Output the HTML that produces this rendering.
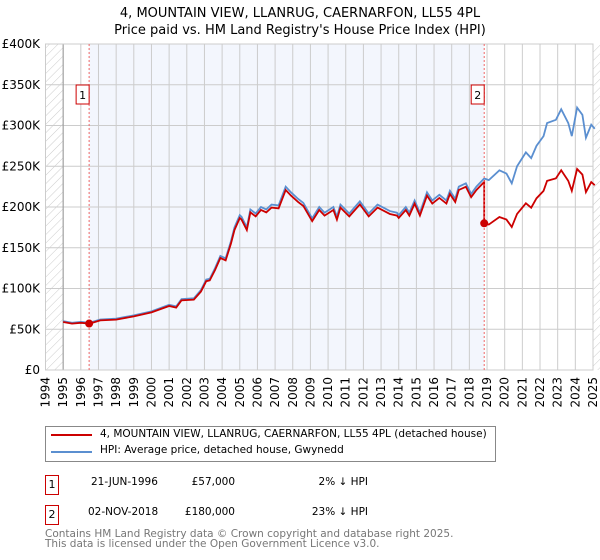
<!DOCTYPE html>
<html><head><meta charset="utf-8">
<style>
body{margin:0;background:#fff;font-family:"DejaVu Sans","Liberation Sans",sans-serif;}
#wrap{position:relative;width:600px;height:560px;overflow:hidden}
.t{position:absolute;white-space:nowrap;color:#000}
</style></head><body>
<div id="wrap">
<svg id="chart" width="600" height="560" style="position:absolute;left:0;top:0">
<defs><pattern id="hatch" width="6" height="6" patternUnits="userSpaceOnUse" patternTransform="rotate(45)"><line x1="0" y1="0" x2="0" y2="6" stroke="#ccc" stroke-width="1"/></pattern></defs>
<text x="300" y="17" text-anchor="middle" font-size="13">4, MOUNTAIN VIEW, LLANRUG, CAERNARFON, LL55 4PL</text>
<text x="300" y="34" text-anchor="middle" font-size="13">Price paid vs. HM Land Registry's House Price Index (HPI)</text>
<g id="plot"></g>
</svg>
<div style="position:absolute;left:45px;top:426px;width:449px;height:34px;border:1px solid #888">
 <div style="position:absolute;left:5px;top:7px;width:41px;height:2px;background:#cc0000"></div>
 <div class="t" style="left:54px;top:1px;font-size:10.5px">4, MOUNTAIN VIEW, LLANRUG, CAERNARFON, LL55 4PL (detached house)</div>
 <div style="position:absolute;left:5px;top:24px;width:41px;height:2px;background:#5b8fd0"></div>
 <div class="t" style="left:54px;top:17px;font-size:10.5px">HPI: Average price, detached house, Gwynedd</div>
</div>
<div style="position:absolute;left:45px;top:475px;width:12px;height:18px;border:1px solid #cc0000;font-size:11px;text-align:center;line-height:18px">1</div>
<div class="t" style="left:91px;top:476px;font-size:10.5px">21-JUN-1996</div>
<div class="t" style="left:165px;width:70px;text-align:right;top:476px;font-size:10.5px">£57,000</div>
<div class="t" style="left:280px;width:88px;text-align:right;top:476px;font-size:10.5px">2% ↓ HPI</div>
<div style="position:absolute;left:45px;top:505px;width:12px;height:18px;border:1px solid #cc0000;font-size:11px;text-align:center;line-height:18px">2</div>
<div class="t" style="left:88px;top:506px;font-size:10.5px">02-NOV-2018</div>
<div class="t" style="left:165px;width:70px;text-align:right;top:506px;font-size:10.5px">£180,000</div>
<div class="t" style="left:280px;width:88px;text-align:right;top:506px;font-size:10.5px">23% ↓ HPI</div>
<div class="t" style="left:45px;top:529px;font-size:10.5px;color:#777;line-height:10px">Contains HM Land Registry data © Crown copyright and database right 2025.<br>This data is licensed under the Open Government Licence v3.0.</div>
</div>
<script>
const hpiYears=[1995.0,1995.5,1996.0,1996.5,1997.1,1998.0,1999.0,2000.0,2001.0,2001.4,2001.7,2002.4,2002.8,2003.1,2003.3,2003.6,2003.9,2004.2,2004.5,2004.7,2005.0,2005.1,2005.4,2005.6,2005.9,2006.2,2006.5,2006.8,2007.2,2007.6,2007.9,2008.3,2008.6,2009.1,2009.5,2009.8,2010.3,2010.5,2010.7,2011.2,2011.8,2012.3,2012.8,2013.5,2013.9,2014.0,2014.4,2014.6,2014.9,2015.2,2015.6,2015.9,2016.3,2016.7,2016.9,2017.2,2017.4,2017.8,2018.1,2018.4,2018.84,2019.1,2019.7,2020.1,2020.4,2020.7,2021.2,2021.5,2021.8,2022.2,2022.4,2022.9,2023.2,2023.6,2023.8,2024.1,2024.4,2024.6,2024.9,2025.1];
const hpiValues=[60,58,59,58,62,63,67,72,80,78,87,88,98,111,112,125,140,137,158,175,190,188,175,197,192,200,197,203,202,225,218,210,205,186,200,193,200,188,203,192,207,192,203,195,193,190,200,193,208,193,218,208,215,208,220,210,225,229,216,225,235,233,245,241,229,250,267,260,275,287,303,307,320,303,287,322,313,285,301,296];
const saleYears=[1996.47,2018.84];
const salePrices=[57,180];
const yTicks=[0,50,100,150,200,250,300,350,400];
const yTickLabels=["£0","£50K","£100K","£150K","£200K","£250K","£300K","£350K","£400K"];
const xTicks=[1994,1995,1996,1997,1998,1999,2000,2001,2002,2003,2004,2005,2006,2007,2008,2009,2010,2011,2012,2013,2014,2015,2016,2017,2018,2019,2020,2021,2022,2023,2024,2025];

const NS="http://www.w3.org/2000/svg";
const L=45.5,R=593,T=44,B=370;
const x=y=>L+(y-1994)*(R-L)/31;
const yv=v=>B-v*(B-T)/400;
const g=document.getElementById('plot');
function mk(tag,attrs){const e=document.createElementNS(NS,tag);for(const k in attrs)e.setAttribute(k,attrs[k]);g.appendChild(e);return e;}
function hpiAt(t){for(let i=0;i<hpiYears.length-1;i++){if(t<=hpiYears[i+1]){const f=(t-hpiYears[i])/(hpiYears[i+1]-hpiYears[i]);return hpiValues[i]+f*(hpiValues[i+1]-hpiValues[i]);}}return hpiValues[hpiValues.length-1];}

let e=mk('rect',{x:L,y:T,width:x(1995)-L,height:B-T,fill:'url(#hatch)'});


e=mk('rect',{x:R,y:T,width:600-R,height:B-T,fill:'url(#hatch)'});


e=mk('rect',{x:x(saleYears[0]),y:T,width:x(saleYears[1])-x(saleYears[0]),height:B-T,fill:'#f3f6fd'});


yTicks.forEach((v,i)=>{
 const l=mk('line',{x1:L,x2:R,y1:yv(v),y2:yv(v),stroke:'#ccc','stroke-width':1});
 
 
 const t=mk('text',{x:40,y:yv(v)+4,'text-anchor':'end','font-size':12});
 t.textContent=yTickLabels[i];
 
 
});
xTicks.forEach(yr=>{
 const l=mk('line',{x1:x(yr),x2:x(yr),y1:T,y2:B,stroke:'#ccc','stroke-width':1});
 
 
 const t=mk('text',{x:0,y:0,'text-anchor':'end','font-size':12,transform:`translate(${x(yr)+4},${B+7}) rotate(-90)`});
 t.textContent=yr;
 
 
});
e=mk('line',{x1:x(1995),x2:x(1995),y1:T,y2:B,stroke:'#999','stroke-width':1});


e=mk('rect',{x:L,y:T,width:R-L,height:B-T,fill:'none',stroke:'#ccc'});


e=mk('polyline',{points:hpiYears.map((t,i)=>x(t)+','+yv(hpiValues[i])).join(' '),fill:'none',stroke:'#5b8fd0','stroke-width':1.8});


const r0=salePrices[0]/hpiAt(saleYears[0]);
const r1=salePrices[1]/hpiAt(saleYears[1]);
const pts=[];
hpiYears.forEach((t,i)=>{if(t<saleYears[1])pts.push([t,hpiValues[i]*r0]);});
pts.push([saleYears[1],hpiAt(saleYears[1])*r0]);
pts.push([saleYears[1],salePrices[1]]);
hpiYears.forEach((t,i)=>{if(t>saleYears[1])pts.push([t,hpiValues[i]*r1]);});
e=mk('polyline',{points:pts.map(p=>x(p[0])+','+yv(p[1])).join(' '),fill:'none',stroke:'#cc0000','stroke-width':1.8});


saleYears.forEach((s,i)=>{
 const l=mk('line',{x1:x(s),x2:x(s),y1:T,y2:B,stroke:'#ee6666','stroke-width':1,'stroke-dasharray':'2,2'});
 
 
 const c=mk('circle',{cx:x(s),cy:yv(salePrices[i]),r:4,fill:'#cc0000'});
 
 
 const bx=mk('rect',{x:x(s)-13,y:85,width:13,height:19,fill:'#fff',stroke:'#cc0000'});
 
 
 const t=mk('text',{x:x(s)-6.5,y:99,'text-anchor':'middle','font-size':11});
 t.textContent=String(i+1);
 
 
});
</script>
</body></html>
